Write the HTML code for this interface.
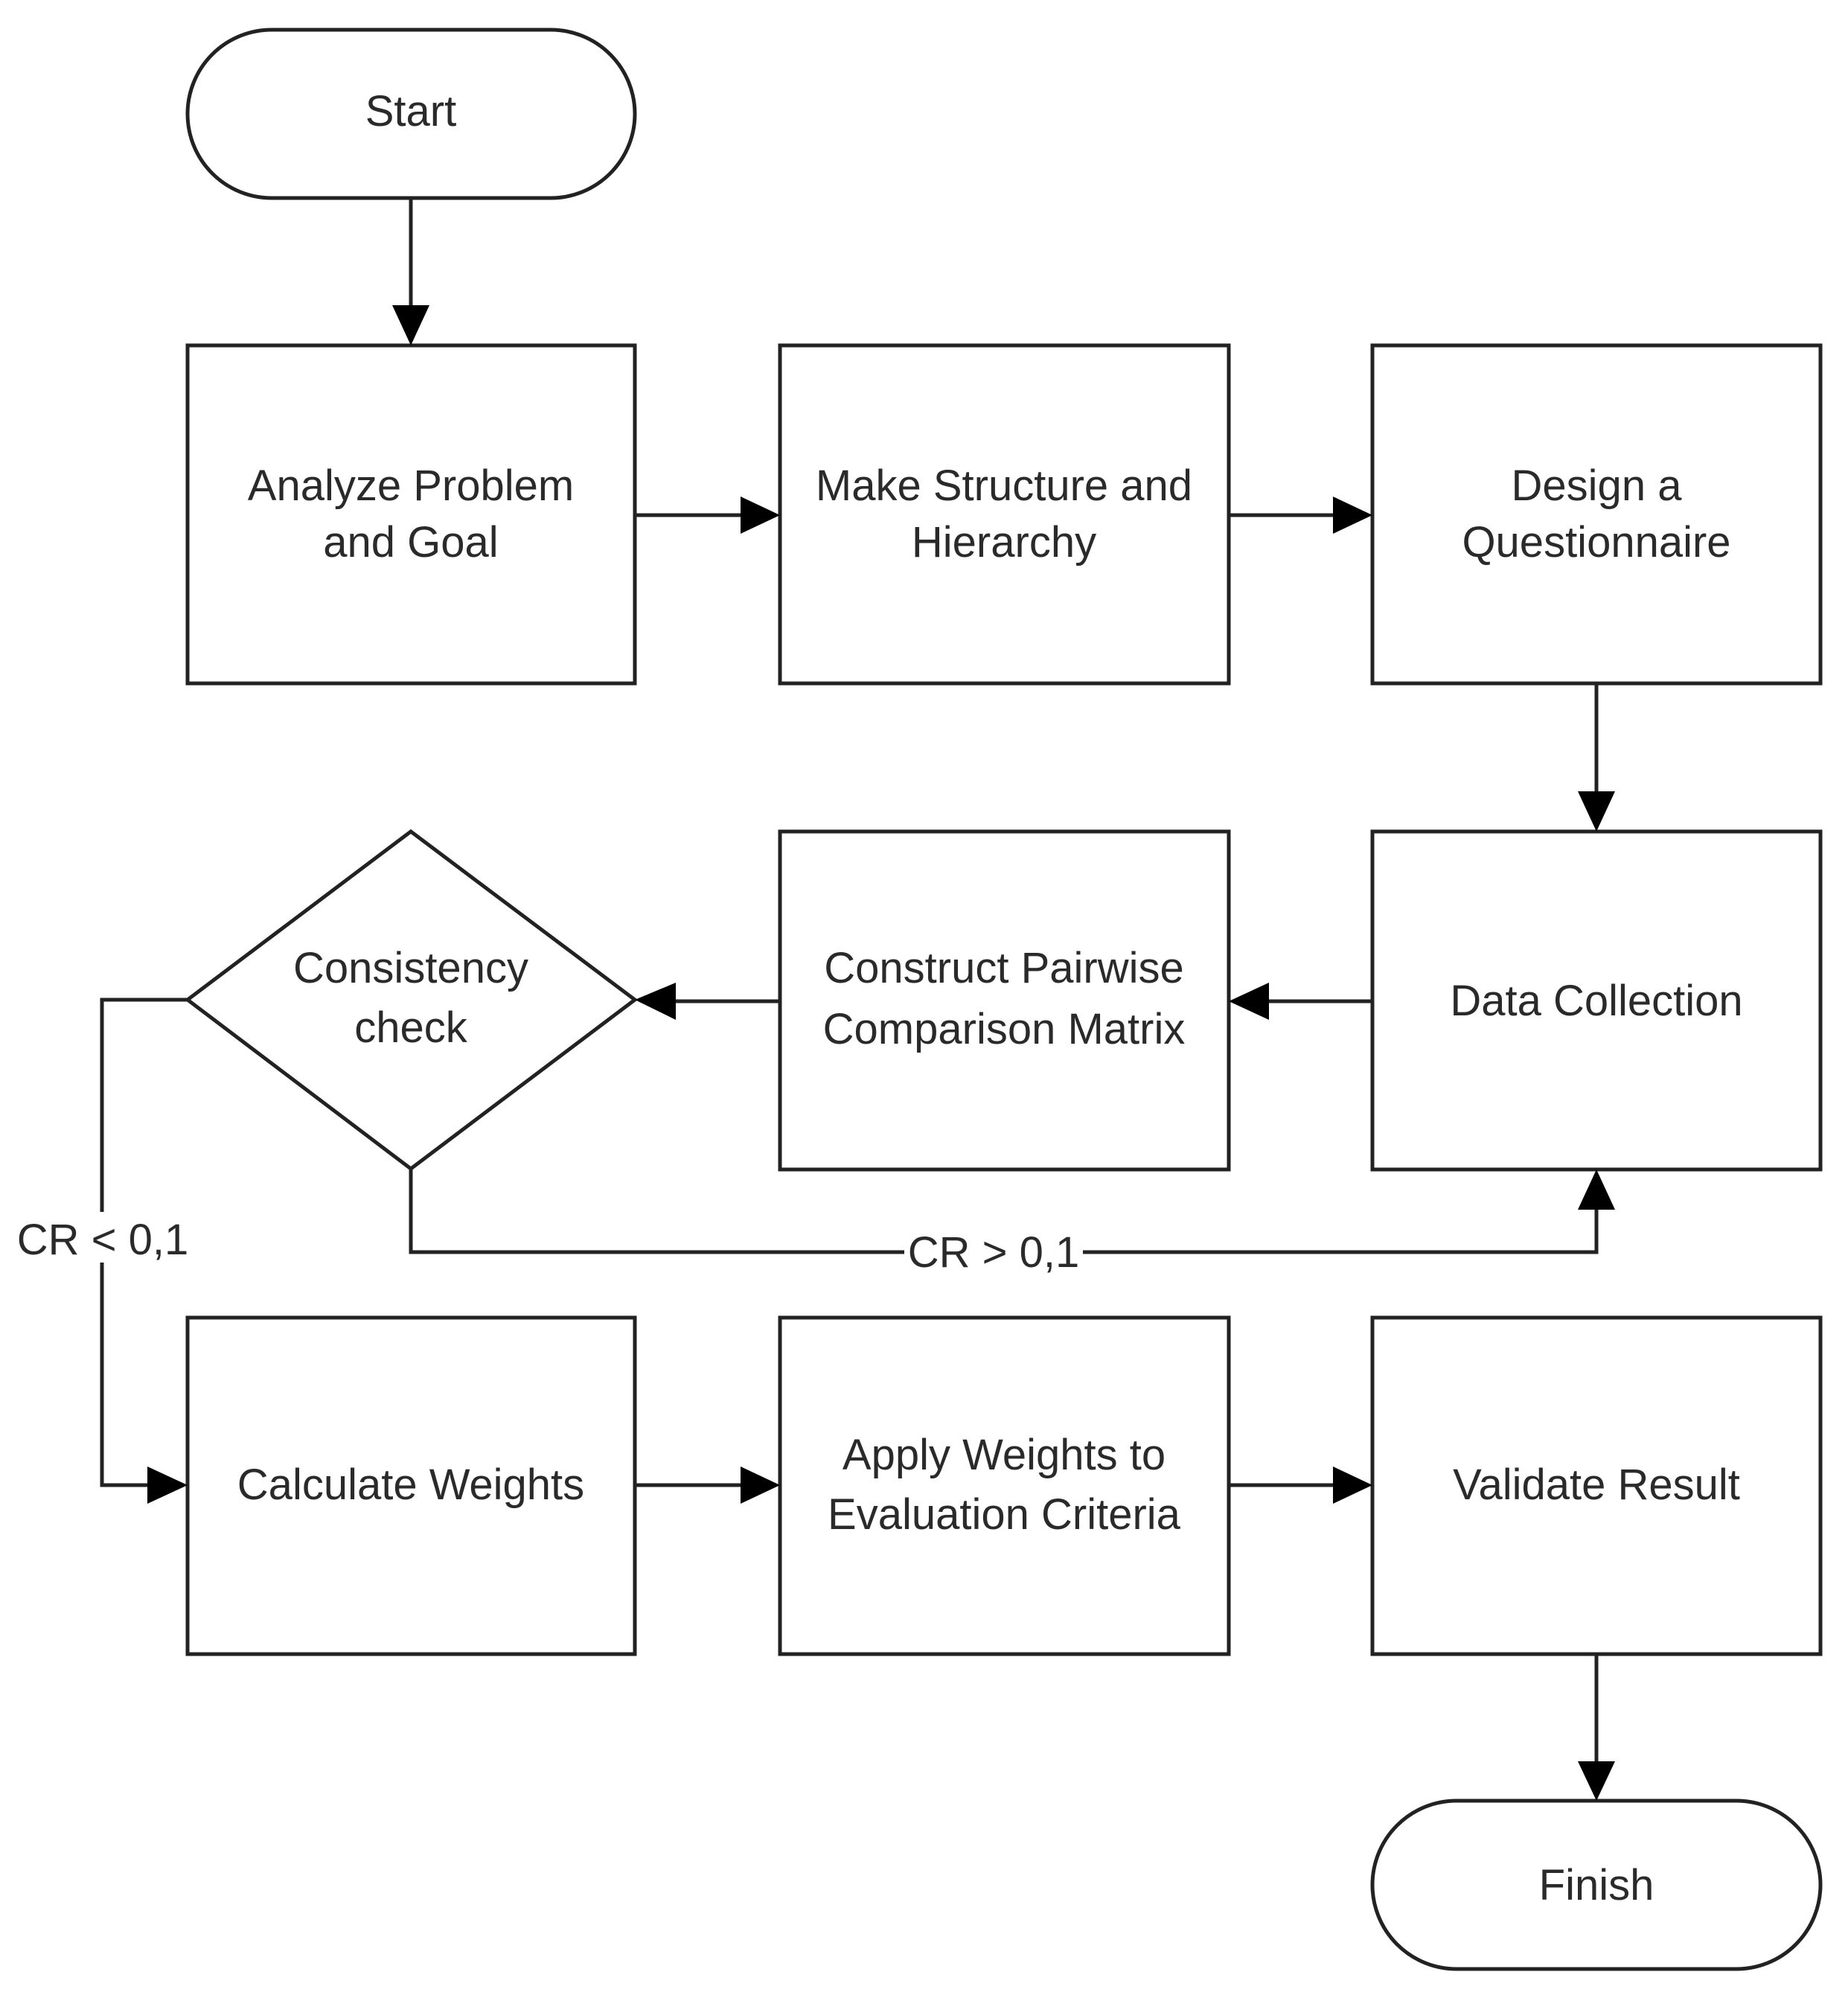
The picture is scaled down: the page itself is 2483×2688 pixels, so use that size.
<!DOCTYPE html>
<html><head><meta charset="utf-8"><style>
html,body{margin:0;padding:0;background:#fff;}
svg{display:block;}
text{font-family:"Liberation Sans",sans-serif;font-size:58px;fill:#2a2a2a;text-anchor:middle;}
</style></head><body>
<svg width="2483" height="2688" viewBox="0 0 2483 2688" xmlns="http://www.w3.org/2000/svg">
<g fill="none" stroke="#222" stroke-width="5">
<rect x="252" y="40" width="601" height="226" rx="113" ry="113"/>
<rect x="252" y="464" width="601" height="454"/>
<rect x="1048" y="464" width="603" height="454"/>
<rect x="1844" y="464" width="602" height="454"/>
<polygon points="552,1117 853,1343 552,1570 252,1343"/>
<rect x="1048" y="1117" width="603" height="454"/>
<rect x="1844" y="1117" width="602" height="454"/>
<rect x="252" y="1770" width="601" height="452"/>
<rect x="1048" y="1770" width="603" height="452"/>
<rect x="1844" y="1770" width="602" height="452"/>
<rect x="1844" y="2419" width="602" height="226" rx="113" ry="113"/>
<line x1="552" y1="266" x2="552" y2="420"/>
<line x1="853" y1="692" x2="1000" y2="692"/>
<line x1="1651" y1="692" x2="1796" y2="692"/>
<line x1="2145" y1="918" x2="2145" y2="1070"/>
<line x1="1844" y1="1345" x2="1700" y2="1345"/>
<line x1="1048" y1="1345" x2="903" y2="1345"/>
<polyline points="552,1570 552,1682 2145,1682 2145,1620"/>
<polyline points="252,1343 137,1343 137,1995 205,1995"/>
<line x1="853" y1="1995" x2="1000" y2="1995"/>
<line x1="1651" y1="1995" x2="1796" y2="1995"/>
<line x1="2145" y1="2222" x2="2145" y2="2372"/>
</g>
<g fill="#000">
<polygon points="527,410 577,410 552,464"/>
<polygon points="995,667 995,717 1048,692"/>
<polygon points="1791,667 1791,717 1844,692"/>
<polygon points="2120,1063 2170,1063 2145,1117"/>
<polygon points="1705,1320 1705,1370 1651,1345"/>
<polygon points="908,1320 908,1370 853,1343"/>
<polygon points="2120,1625 2170,1625 2145,1571"/>
<polygon points="198,1970 198,2020 252,1995"/>
<polygon points="995,1970 995,2020 1048,1995"/>
<polygon points="1791,1970 1791,2020 1844,1995"/>
<polygon points="2120,2366 2170,2366 2145,2419"/>
</g>
<rect x="1215" y="1652" width="240" height="60" fill="#fff"/>
<rect x="15" y="1628" width="250" height="68" fill="#fff"/>
<text x="552" y="169">Start</text>
<text x="552" y="672">Analyze Problem</text>
<text x="552" y="748">and Goal</text>
<text x="1349" y="672">Make Structure and</text>
<text x="1349" y="748">Hierarchy</text>
<text x="2145" y="672">Design a</text>
<text x="2145" y="748">Questionnaire</text>
<text x="552" y="1320">Consistency</text>
<text x="552" y="1400">check</text>
<text x="1349" y="1320">Construct Pairwise</text>
<text x="1349" y="1402">Comparison Matrix</text>
<text x="2145" y="1364">Data Collection</text>
<text x="1335" y="1702">CR &gt; 0,1</text>
<text x="138" y="1685">CR &lt; 0,1</text>
<text x="552" y="2014">Calculate Weights</text>
<text x="1349" y="1974">Apply Weights to</text>
<text x="1349" y="2054">Evaluation Criteria</text>
<text x="2145" y="2014">Validate Result</text>
<text x="2145" y="2552">Finish</text>
</svg>
</body></html>
